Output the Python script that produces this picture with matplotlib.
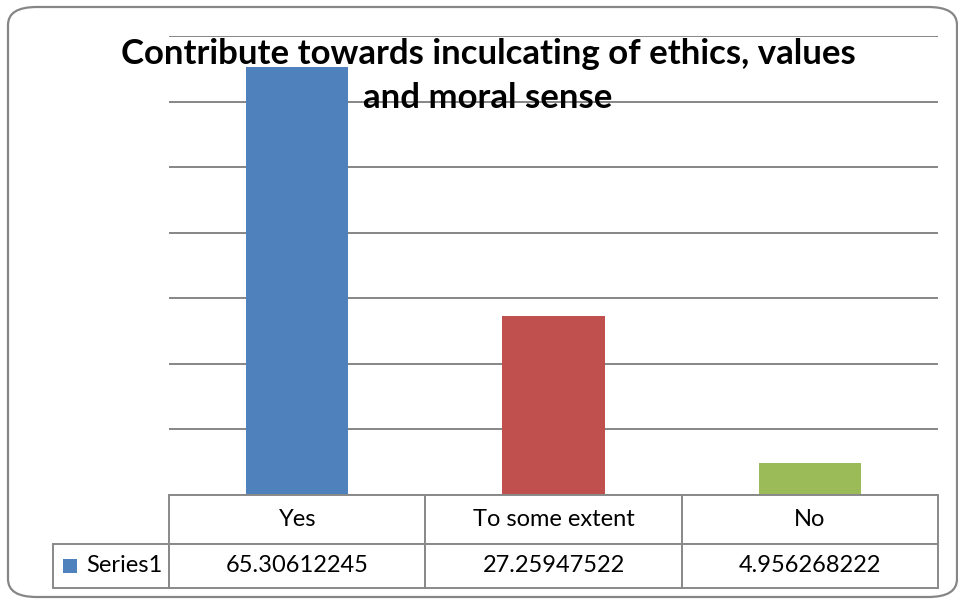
import matplotlib
matplotlib.use("Agg")
import matplotlib.pyplot as plt
from matplotlib.table import Table
from matplotlib.patches import FancyBboxPatch, Rectangle

categories = ["Yes", "To some extent", "No"]
values = [65.30612245, 27.25947522, 4.956268222]
value_labels = ["65.30612245", "27.25947522", "4.956268222"]
series_name = "Series1"
bar_colors = ["#4F81BD", "#C0504D", "#9BBB59"]
title = "Contribute towards inculcating of ethics, values\nand moral sense"

W, H = 958, 599
plt.rcParams['font.family'] = ['Lato', 'DejaVu Sans']
fig = plt.figure(figsize=(W / 100, H / 100), dpi=100)

# outer rounded chart border
border = FancyBboxPatch((8 / W, 1 - 597 / H), (957 - 8) / W, (597 - 7) / H,
                        boxstyle="round,pad=0,rounding_size=0.03",
                        transform=fig.transFigure, facecolor="none",
                        edgecolor="#868686", linewidth=1.6, zorder=0)
fig.patches.append(border)

ax = fig.add_axes([169 / W, 1 - 495 / H, (938 - 169) / W, (495 - 36) / H])
ax.set_zorder(2)
ax.set_facecolor("none")
x = range(len(categories))
ax.bar(x, values, width=0.4, color=bar_colors, zorder=3)
ax.set_xlim(-0.5, 2.5)
ax.set_ylim(0, 70)
ax.set_yticks(range(0, 71, 10))
ax.yaxis.grid(True, color="#868686", linewidth=1.4, zorder=0)
ax.tick_params(left=False, bottom=False, labelleft=False, labelbottom=False)
for s in ax.spines.values():
    s.set_visible(False)

# data table under the plot (col 0 = series label, corner left empty)
ah = 495 - 36
tb = Table(ax, bbox=[(53 - 169) / 769, (495 - 588) / ah, 885 / 769, 93 / ah])
for j, c in enumerate(categories):
    tb.add_cell(0, j + 1, width=256, height=49, text=c, loc="center",
                edgecolor="#898989", facecolor="white")
lab = tb.add_cell(1, 0, width=116, height=44, text=series_name, loc="right",
                  edgecolor="#898989", facecolor="white")
lab.PAD = 0.06
for j, v in enumerate(value_labels):
    tb.add_cell(1, j + 1, width=256, height=44, text=v, loc="center",
                edgecolor="#898989", facecolor="white")
tb.auto_set_font_size(False)
for cell in tb.get_celld().values():
    cell.set_linewidth(1.4)
    cell.get_text().set_fontsize(17)
ax.add_table(tb)
tb.set_clip_on(False)
tb.set_zorder(4)

# legend key in the table row
ax.add_patch(Rectangle(((63 - 169) / 769, (495 - 573) / ah), 14 / 769, 14 / ah,
                       transform=ax.transAxes, facecolor=bar_colors[0],
                       edgecolor="none", clip_on=False, zorder=5))

fig.text(488 / W, 1 - 76 / H, title, ha="center", va="center",
         fontsize=25, fontweight="bold", linespacing=1.48, zorder=10)

fig.savefig("out.png", dpi=100)
